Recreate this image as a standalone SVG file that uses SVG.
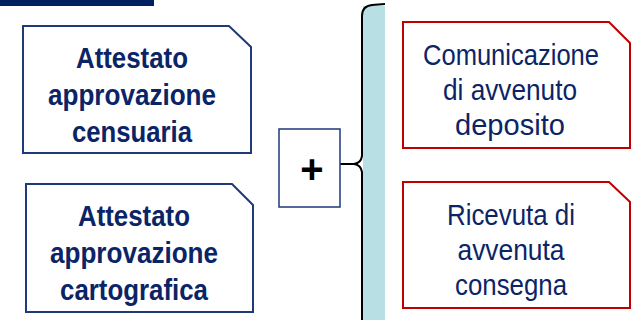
<svg xmlns="http://www.w3.org/2000/svg" width="633" height="320" viewBox="0 0 633 320">
<style>
.nb{fill:#ffffff;stroke:#1f3a78;stroke-width:2}
.rb{fill:#ffffff;stroke:#c00000;stroke-width:2}
.tb{font-family:"Liberation Sans",Arial,sans-serif;font-weight:bold;font-size:30px;fill:#0b2466;text-anchor:middle}
.tr{font-family:"Liberation Sans",Arial,sans-serif;font-size:29px;fill:#0b2466;text-anchor:middle}
</style>
<rect x="0" y="0" width="154" height="6" fill="#002060"/>
<rect x="363" y="6" width="22" height="314" fill="#b8e0e4"/>
<g id="connectors">
<path d="M340,164 L354,164 Q361,163 362,156 L362,16 Q362,6 372,5 L385,4 M354,164 Q361,165 362,172 L362,322" fill="none" stroke="#000000" stroke-width="2"/>
</g>
<g id="node-censuaria">
<path class="nb" d="M23,26 H229 L251,47 V153 H23 Z"/>
<text class="tb" x="132" y="68" textLength="112" lengthAdjust="spacingAndGlyphs">Attestato</text>
<text class="tb" x="132" y="105" textLength="168" lengthAdjust="spacingAndGlyphs">approvazione</text>
<text class="tb" x="132" y="142" textLength="120" lengthAdjust="spacingAndGlyphs">censuaria</text>
</g>
<g id="node-cartografica">
<path class="nb" d="M26,184 H232 L253,205 V312 H26 Z"/>
<text class="tb" x="134" y="226" textLength="112" lengthAdjust="spacingAndGlyphs">Attestato</text>
<text class="tb" x="134" y="263" textLength="168" lengthAdjust="spacingAndGlyphs">approvazione</text>
<text class="tb" x="134" y="300" textLength="148" lengthAdjust="spacingAndGlyphs">cartografica</text>
</g>
<g id="node-plus">
<rect x="279" y="129" width="61" height="78" fill="#ffffff" stroke="#1f3a78" stroke-width="1.5"/>
<text x="312" y="183" font-family="Liberation Sans,Arial,sans-serif" font-weight="bold" font-size="40" fill="#000000" text-anchor="middle">+</text>
</g>
<g id="node-comunicazione">
<path class="rb" d="M403,22 H609 L630,43 V148 H403 Z"/>
<text class="tr" x="511" y="65" textLength="176" lengthAdjust="spacingAndGlyphs">Comunicazione</text>
<text class="tr" x="510" y="100" textLength="134" lengthAdjust="spacingAndGlyphs">di avvenuto</text>
<text class="tr" x="510" y="135" textLength="110" lengthAdjust="spacingAndGlyphs">deposito</text>
</g>
<g id="node-ricevuta">
<path class="rb" d="M403,182 H609 L630,202 V308 H403 Z"/>
<text class="tr" x="511" y="225" textLength="128" lengthAdjust="spacingAndGlyphs">Ricevuta di</text>
<text class="tr" x="511" y="260" textLength="107" lengthAdjust="spacingAndGlyphs">avvenuta</text>
<text class="tr" x="511" y="295" textLength="112" lengthAdjust="spacingAndGlyphs">consegna</text>
</g>
</svg>
